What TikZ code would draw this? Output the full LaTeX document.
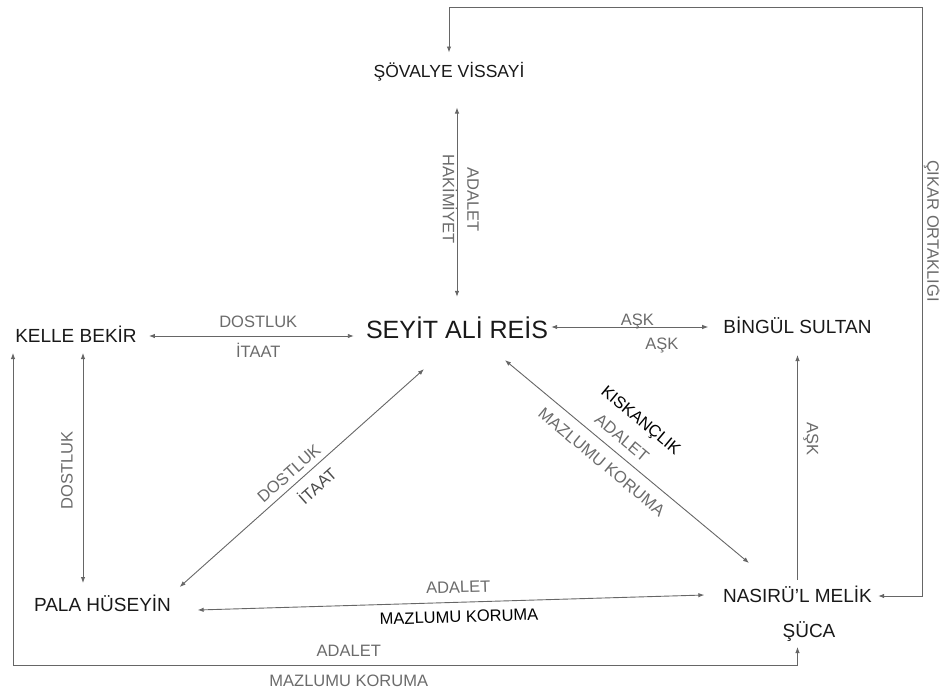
\documentclass[tikz,border=0pt]{standalone}
\usepackage{fontspec}
\setmainfont{Liberation Sans}
\usetikzlibrary{arrows.meta}

\tikzset{
  person/.style={font=\fontsize{19}{21}\selectfont, text=black!90, inner sep=0pt, text height=13.6pt, text depth=0pt},
  relation/.style={font=\fontsize{16.5}{18}\selectfont, text=black!58, inner sep=0pt, text height=11.8pt, text depth=0pt},
  link/.style={draw=black!60, line width=0.9pt},
}

\begin{document}
\begin{tikzpicture}[x=1pt, y=-1pt, >={Latex[length=6pt,width=4.5pt]}]
    \useasboundingbox (0,0) rectangle (940,694);

    % The characters
    \node[person, font=\fontsize{17.5}{20}\selectfont] (sovalye) at (449,70.5) {ŞÖVALYE VİSSAYİ};
    \node[person, font=\fontsize{25}{28}\selectfont, text height=17.9pt] (seyit) at (457,330) {SEYİT ALİ REİS};
    \node[person] (kelle) at (76,336) {KELLE BEKİR};
    \node[person] (bingul) at (797.5,327) {BİNGÜL SULTAN};
    \node[person] (pala) at (102.5,605) {PALA HÜSEYİN};
    \node[person] (nasir) at (797.5,596) {NASIRÜ'L MELİK};
    \node[person] (suca) at (809,631) {ŞÜCA};

    % Corners of the long lines
    \coordinate (cikar) at (922,7);
    \coordinate (sw) at (13,665);
    \coordinate (kb) at ([xshift=7pt]kelle.south);

    % Seyit and the others
    \draw[link, <->, shorten <=30pt, shorten >=24pt] (sovalye.south -| seyit.north) -- (seyit.north)
        node[relation, pos=.5, sloped, above=10pt] {ADALET}
        node[relation, pos=.5, sloped, below=2pt] {HAKİMİYET};
    \draw[link, <->, shorten <=12pt, shorten >=12pt] (kelle.east) -- (kelle.east -| seyit.west)
        node[relation, pos=.53, above=8pt] {DOSTLUK}
        node[relation, pos=.53, below=9pt] {İTAAT};
    \draw[link, <->, shorten <=3pt, shorten >=15pt] (seyit.east |- bingul.west) -- (bingul.west)
        node[relation, pos=.51, above=1pt] {AŞK}
        node[relation, pos=.65, below=10pt] {AŞK};
    \draw[link, <->] ([shift={(8.5,-11)}]pala.north east) -- ([shift={(-33,30)}]seyit.south)
        node[relation, pos=.48, sloped, above=6pt] {DOSTLUK}
        node[relation, pos=.52, sloped, below=10pt, text=black!70] {İTAAT};
    \draw[link, <->] ([shift={(48,21)}]seyit.south) -- ([shift={(-48.5,-26)}]nasir.north)
        node[relation, pos=.45, sloped, above=35pt, text=black] {KISKANÇLIK}
        node[relation, pos=.44, sloped, above=9pt] {ADALET}
        node[relation, pos=.44, sloped, below=10pt] {MAZLUMU KORUMA};

    % Kelle Bekir and Pala Hüseyin
    \draw[link, <->, shorten <=15pt, shorten >=10pt] (kb |- pala.north) -- (kb)
        node[relation, midway, sloped, above=10pt] {DOSTLUK};
    \draw[link, <->, shorten <=10pt, shorten >=9pt] (sw |- kelle.south) -- (sw) -| 
        node[relation, pos=.214, above=8pt] {ADALET}
        node[relation, pos=.214, below=9pt] {MAZLUMU KORUMA} (nasir.south |- suca.south);
    \draw[link, <->] ([shift={(26.5,5)}]pala.east) -- ([shift={(-18.5,-1)}]nasir.west)
        node[relation, pos=.515, sloped, above=9pt] {ADALET}
        node[relation, pos=.515, sloped, below=8pt, text=black] {MAZLUMU KORUMA};

    % Nasirü'l Melik
    \draw[link, <-, shorten <=21pt, shorten >=9pt] (bingul.south) -- (nasir.north)
        node[relation, pos=.41, sloped, above=9pt] {AŞK};
    \draw[link, <->, shorten <=11pt, shorten >=6pt] (sovalye.north) |- (cikar) |-
        node[relation, pos=.19, sloped, above=5pt] {ÇIKAR ORTAKLIĞI} (nasir.east);
\end{tikzpicture}
\end{document}
